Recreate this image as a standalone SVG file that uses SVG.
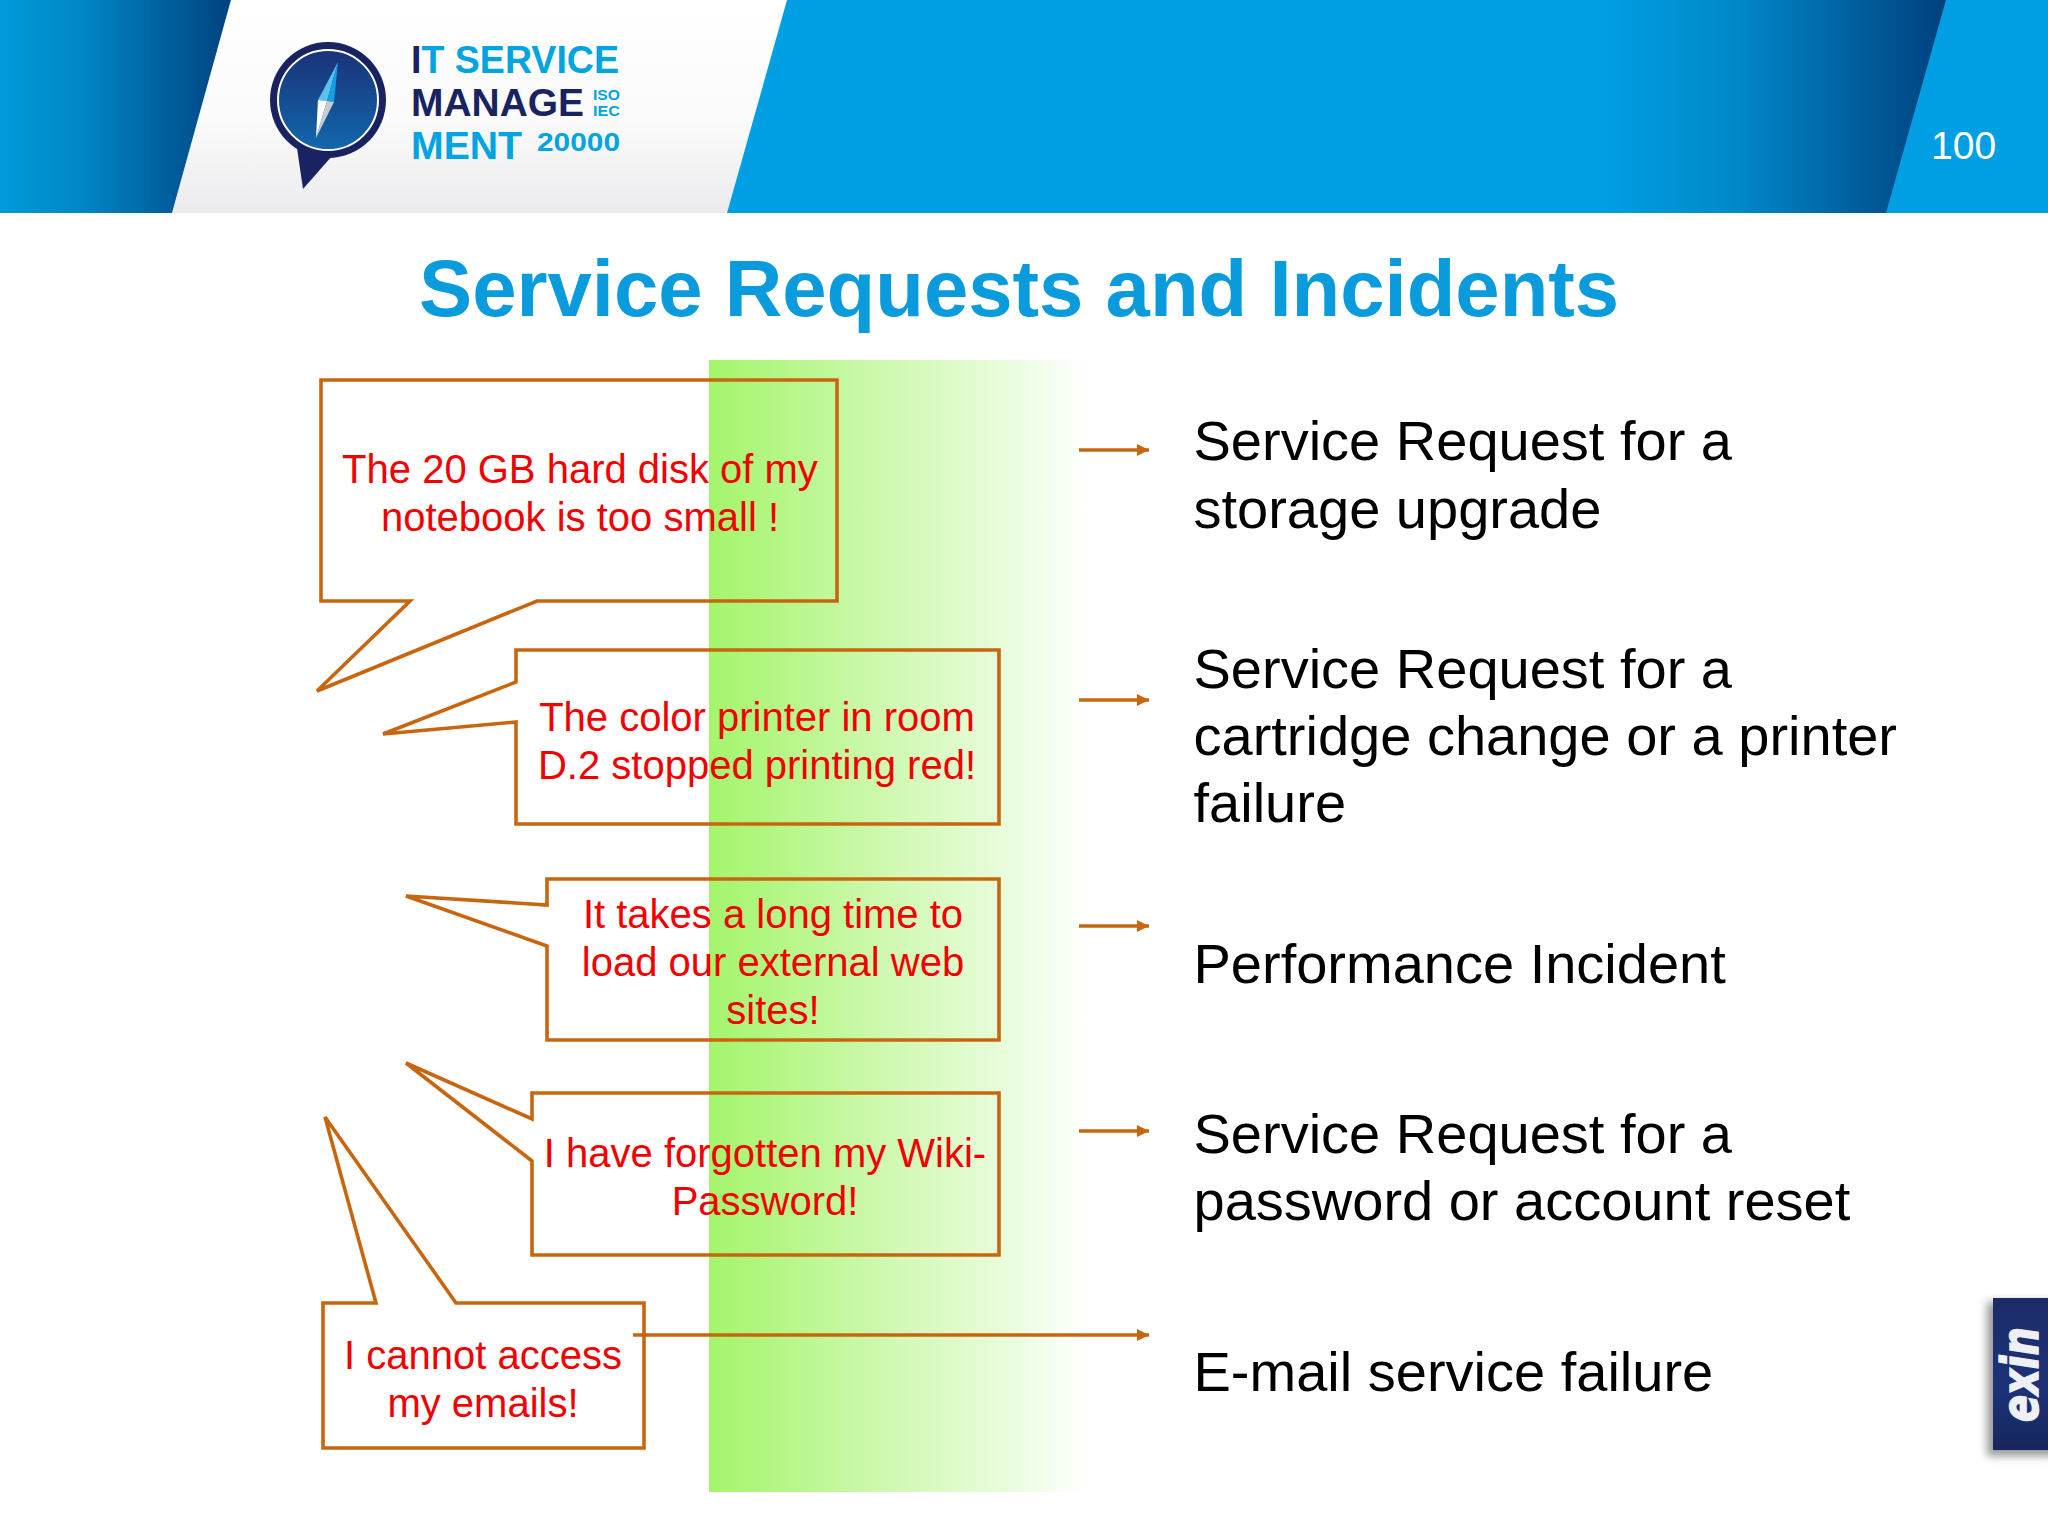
<svg xmlns="http://www.w3.org/2000/svg" width="2048" height="1536" viewBox="0 0 2048 1536">
<style>
.box{fill:none;stroke:#c8660f;stroke-width:3.6}
.conn{fill:none;stroke:#c8660f;stroke-width:3.6;marker-end:url(#arrow)}
.say{font-family:"Liberation Sans",Arial,sans-serif;font-size:40px;fill:#f20000;text-anchor:middle}
.res{font-family:"Liberation Sans",Arial,sans-serif;font-size:56px;fill:#000}
.logo{font-family:"Liberation Sans",Arial,sans-serif;font-weight:700}
</style>
<defs>
<linearGradient id="gl" x1="0" x2="1" y1="0" y2="0"><stop offset="0" stop-color="#009ada"/><stop offset=".35" stop-color="#0087c6"/><stop offset="1" stop-color="#00427f"/></linearGradient>
<linearGradient id="gr" gradientUnits="userSpaceOnUse" x1="1600" x2="1946" y1="0" y2="0"><stop offset="0" stop-color="#009fe3"/><stop offset=".4" stop-color="#0088c9"/><stop offset="1" stop-color="#00407e"/></linearGradient>
<linearGradient id="gw" x1="0" x2="0" y1="0" y2="1"><stop offset="0" stop-color="#fff"/><stop offset=".55" stop-color="#fbfbfb"/><stop offset="1" stop-color="#ebebee"/></linearGradient>
<linearGradient id="green" x1="0" x2="1" y1="0" y2="0"><stop offset="0" stop-color="#a4f56b"/><stop offset=".51" stop-color="#d2f9b6"/><stop offset=".82" stop-color="#ebfde0"/><stop offset="1" stop-color="#fff"/></linearGradient>
<linearGradient id="dial" x1="0" x2="0" y1="0" y2="1"><stop offset="0" stop-color="#1a3278"/><stop offset="1" stop-color="#1268ae"/></linearGradient>
<linearGradient id="tab" x1="0" x2="0" y1="0" y2="1"><stop offset="0" stop-color="#1c2c68"/><stop offset=".6" stop-color="#1c3278"/><stop offset="1" stop-color="#17265c"/></linearGradient>
<filter id="blur" x="-30%" y="-30%" width="160%" height="160%"><feGaussianBlur stdDeviation="4"/></filter>
<marker id="arrow" markerUnits="userSpaceOnUse" markerWidth="13" markerHeight="12" refX="12" refY="6" orient="auto"><path d="M0 0L12 6L0 12z" fill="#c8660f"/></marker>
</defs>

<g id="header">
<rect width="2048" height="213" fill="#009fe3"/>
<polygon points="0,0 231,0 172,213 0,213" fill="url(#gl)"/>
<polygon points="787,0 1946,0 1886,213 727,213" fill="url(#gr)"/>
<polygon points="787,0 1300,0 1300,213 727,213" fill="#009fe3"/>
<polygon points="231,0 787,0 727,213 172,213" fill="url(#gw)"/>
<text x="1931" y="159" font-family="Liberation Sans,Arial,sans-serif" font-size="39" fill="#fff">100</text>
</g>

<g id="logo">
<polygon points="297,148 303,189 332,156" fill="#1a2361"/>
<circle cx="328" cy="100" r="58" fill="#1a2361"/>
<circle cx="328" cy="100" r="50" fill="url(#dial)" stroke="#fff" stroke-width="2"/>
<polygon points="338,62 318,100 327,101" fill="#5cc0ec"/>
<polygon points="338,62 327,101 334,102" fill="#129fe6"/>
<polygon points="318,100 327,101 316,138" fill="#fff"/>
<polygon points="327,101 334,102 316,138" fill="#c8ccd4"/>
<text class="logo" x="411" y="73" font-size="38" fill="#00a4e0" textLength="208" lengthAdjust="spacingAndGlyphs"><tspan fill="#1a2361">I</tspan>T SERVICE</text>
<text class="logo" x="411" y="116" font-size="38" fill="#1a2361" textLength="173" lengthAdjust="spacingAndGlyphs">MANAGE</text>
<text class="logo" x="593" y="100" font-size="14" fill="#00a4e0" textLength="27" lengthAdjust="spacingAndGlyphs">ISO</text>
<text class="logo" x="593" y="116" font-size="14" fill="#00a4e0" textLength="27" lengthAdjust="spacingAndGlyphs">IEC</text>
<text class="logo" x="411" y="159" font-size="38" fill="#00a4e0" textLength="111" lengthAdjust="spacingAndGlyphs">MENT</text>
<text class="logo" x="537" y="151" font-size="26" fill="#00a4e0" textLength="83" lengthAdjust="spacingAndGlyphs">20000</text>
</g>

<text id="title" x="419" y="316" font-family="Liberation Sans,Arial,sans-serif" font-size="79.7" font-weight="700" fill="#0a9bdc">Service Requests and Incidents</text>

<rect id="band" x="709" y="360" width="376" height="1132" fill="url(#green)"/>

<g id="callout-1">
<polygon class="box" points="321,380 837,380 837,601 537,601 317,691 410,601 321,601"/>
<text class="say" x="580" y="483">The 20 GB hard disk of my</text>
<text class="say" x="580" y="531">notebook is too small !</text>
</g>
<g id="callout-2">
<polygon class="box" points="516,650 999,650 999,824 516,824 516,722 383,734 516,682"/>
<text class="say" x="757" y="731">The color printer in room</text>
<text class="say" x="757" y="779">D.2 stopped printing red!</text>
</g>
<g id="callout-3">
<polygon class="box" points="547,879 999,879 999,1040 547,1040 547,946 406,896 547,905"/>
<text class="say" x="773" y="928">It takes a long time to</text>
<text class="say" x="773" y="976">load our external web</text>
<text class="say" x="773" y="1024">sites!</text>
</g>
<g id="callout-4">
<polygon class="box" points="532,1093 999,1093 999,1255 532,1255 532,1161 406,1063 532,1119"/>
<text class="say" x="765" y="1167">I have forgotten my Wiki-</text>
<text class="say" x="765" y="1215">Password!</text>
</g>
<g id="callout-5">
<polygon class="box" points="323,1303 376,1303 325,1117 456,1303 644,1303 644,1448 323,1448"/>
<text class="say" x="483" y="1369">I cannot access</text>
<text class="say" x="483" y="1417">my emails!</text>
</g>

<g id="connectors">
<line class="conn" x1="1079" y1="450" x2="1149" y2="450"/>
<line class="conn" x1="1079" y1="700" x2="1149" y2="700"/>
<line class="conn" x1="1079" y1="926" x2="1149" y2="926"/>
<line class="conn" x1="1079" y1="1131" x2="1149" y2="1131"/>
<line class="conn" x1="633" y1="1335" x2="1149" y2="1335"/>
</g>

<g id="result-1"><text class="res" x="1193.5" y="460">Service Request for a</text><text class="res" x="1193.5" y="528">storage upgrade</text></g>
<g id="result-2"><text class="res" x="1193.5" y="688">Service Request for a</text><text class="res" x="1193.5" y="755">cartridge change or a printer</text><text class="res" x="1193.5" y="822">failure</text></g>
<g id="result-3"><text class="res" x="1193.5" y="983">Performance Incident</text></g>
<g id="result-4"><text class="res" x="1193.5" y="1153">Service Request for a</text><text class="res" x="1193.5" y="1220">password or account reset</text></g>
<g id="result-5"><text class="res" x="1193.5" y="1391">E-mail service failure</text></g>

<g id="exin-tab">
<rect x="1987" y="1302" width="70" height="154" fill="#555" opacity=".6" filter="url(#blur)"/>
<rect x="1993" y="1298" width="55" height="152" fill="url(#tab)"/>
<text transform="translate(2038 1422) rotate(-90)" font-family="DejaVu Sans,sans-serif" font-size="52" font-weight="700" font-style="italic" fill="#eef0f6" stroke="#eef0f6" stroke-width="1.5" textLength="95" lengthAdjust="spacingAndGlyphs">exin</text>
</g>
</svg>
